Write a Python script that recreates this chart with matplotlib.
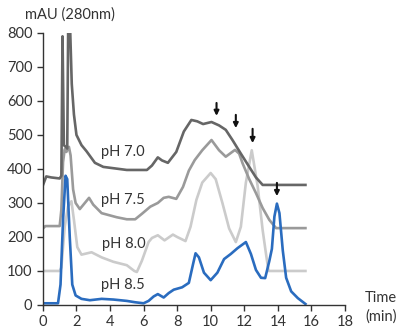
import matplotlib
matplotlib.use("Agg")
import matplotlib.pyplot as plt

plt.rcParams["font.family"] = ["Lato", "DejaVu Sans"]

# ---- data ----
t_70 = [0, 0.2, 0.5, 1.0, 1.1, 1.17, 1.25, 1.45, 1.52, 1.6, 1.72, 1.85, 2.0, 2.3, 2.6, 3.1,
        3.6, 5.0, 6.2, 6.5, 6.85, 7.1, 7.45, 7.95, 8.4, 8.85, 9.2, 9.55, 10.05, 10.5,
        10.9, 11.3, 11.8, 12.3, 12.7, 13.1, 15.65]
y_70 = [352, 378, 375, 372, 380, 790, 470, 460, 900, 850, 650, 560, 500, 470, 452, 418,
        406, 397, 397, 410, 434, 425, 418, 450, 510, 544, 540, 532, 538, 528,
        515, 485, 445, 406, 375, 353, 353]

t_75 = [0, 0.15, 0.3, 1.0, 1.1, 1.2, 1.3, 1.4, 1.55, 1.65, 1.8, 1.95, 2.2, 2.5, 2.75, 3.0,
        3.5, 4.4, 5.0, 5.5, 5.9, 6.4, 6.85, 7.2, 7.5, 7.95, 8.35, 8.7, 9.05, 9.5, 10.05,
        10.5, 10.9, 11.45, 11.7, 11.9, 12.3, 12.7, 13.1, 13.5, 13.9, 15.65]
y_75 = [225, 232, 232, 232, 280, 420, 458, 450, 465, 440, 340, 300, 282, 300, 315, 295,
        270, 258, 252, 252, 268, 289, 300, 315, 318, 312, 347, 395, 426, 455, 485,
        455, 436, 456, 445, 417, 370, 329, 285, 250, 226, 226]

t_80 = [0, 1.0, 1.1, 1.3, 1.5, 1.7, 1.85, 2.05, 2.3, 2.9, 3.5, 4.2, 5.0, 5.45, 5.6, 5.9,
        6.3, 6.5, 6.85, 7.25, 7.75, 8.0, 8.5, 8.8, 9.15, 9.5, 10.0, 10.3, 10.7, 11.1,
        11.5, 11.8, 12.1, 12.45, 12.8, 13.1, 13.3, 13.45, 15.65]
y_80 = [100, 100, 110, 230, 290, 305, 250, 170, 148, 155, 140, 127, 117, 100, 97, 130,
        185, 197, 205, 190, 207, 200, 188, 230, 309, 360, 388, 370, 300, 225,
        185, 230, 360, 455, 350, 220, 150, 100, 100]

t_85 = [0, 0.9, 1.05, 1.2, 1.35, 1.45, 1.6, 1.75, 1.95, 2.3, 2.8, 3.5, 4.2, 5.0, 5.5, 6.0,
        6.3, 6.6, 6.85, 7.2, 7.5, 7.8, 8.3, 8.7, 8.95, 9.1, 9.3, 9.6, 10.0, 10.4, 10.8,
        11.2, 11.6, 12.1, 12.4, 12.7, 13.0, 13.25, 13.5, 13.65, 13.8, 13.95, 14.1, 14.3,
        14.5, 14.8, 15.2, 15.65]
y_85 = [5, 5, 60, 250, 380, 370, 200, 60, 28, 18, 14, 18, 16, 12, 8, 5,
        12, 25, 32, 22, 35, 45, 52, 65, 120, 152, 140, 95, 73, 95, 135,
        150, 167, 185, 150, 103, 80, 79, 130, 165, 260, 298, 270, 160,
        80, 40, 20, 3]

labels = ["pH 7.0", "pH 7.5", "pH 8.0", "pH 8.5"]
label_x = [4.75, 4.75, 4.85, 4.75]
label_y = [450, 309, 180, 59]

# arrows marking collected peaks: x, tail, tip
arrow_x = [10.35, 11.5, 12.5, 13.95]
arrow_tail = [594, 559, 518, 359]
arrow_tip = [556, 520, 476, 320]

colors = {"7.0": "#666666", "7.5": "#9a9a9a", "8.0": "#cbcbcb", "8.5": "#2a6cbf"}
txt = "#333333"

fig = plt.figure(figsize=(4.01, 3.29), dpi=100)
ax = fig.add_axes([0.107, 0.073, 0.753, 0.827])

# lightest trace underneath, blue on top
ax.plot(t_80, y_80, color=colors["8.0"], lw=1.9, solid_joinstyle="round")
ax.plot(t_75, y_75, color=colors["7.5"], lw=1.9, solid_joinstyle="round")
ax.plot(t_70, y_70, color=colors["7.0"], lw=1.9, solid_joinstyle="round")
ax.plot(t_85, y_85, color=colors["8.5"], lw=1.9, solid_joinstyle="round")

for lab, x, y in zip(labels, label_x, label_y):
    ax.text(x, y, lab, ha="center", va="center", fontsize=10.5, color=txt)

for x, y0, y1 in zip(arrow_x, arrow_tail, arrow_tip):
    ax.annotate("", xy=(x, y1), xytext=(x, y0),
                arrowprops=dict(arrowstyle="-|>", color="#111111", lw=1.5,
                                mutation_scale=7, shrinkA=0, shrinkB=0))

ax.set_xlim(0, 18)
ax.set_ylim(0, 800)
ax.set_xticks(range(0, 19, 2))
ax.set_yticks(range(0, 801, 100))
ax.spines["top"].set_visible(False)
ax.spines["right"].set_visible(False)
for s in ["left", "bottom"]:
    ax.spines[s].set_color(txt)
    ax.spines[s].set_linewidth(1.0)
ax.tick_params(colors=txt, labelsize=10.5, length=4, width=1.0, direction="out")

fig.text(0.062, 0.955, "mAU (280nm)", fontsize=10.5, color=txt, ha="left", va="center")
fig.text(0.91, 0.065, "Time\n(min)", fontsize=10.5, color=txt, ha="left", va="center",
         linespacing=1.35)

fig.savefig("out.png", dpi=100)
